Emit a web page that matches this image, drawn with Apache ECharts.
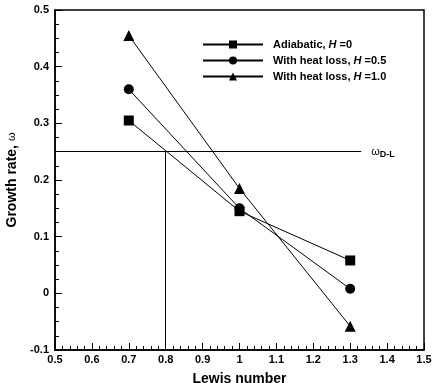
<!DOCTYPE html>
<html><head><meta charset="utf-8">
<script src="https://cdn.jsdelivr.net/npm/echarts@6/dist/echarts.min.js"></script>
<style>html,body{margin:0;padding:0;background:#fff}#c{width:433px;height:383px}</style>
</head><body><div id="c"></div>
<script>
var lewis = [0.7, 1.0, 1.3];
var adiabatic = [0.305, 0.145, 0.058];
var heatLoss05 = [0.36, 0.15, 0.008];
var heatLoss10 = [0.455, 0.185, -0.058];
var seriesNames = ['Adiabatic, {i|H} =0', 'With heat loss, {i|H} =0.5', 'With heat loss, {i|H} =1.0'];
var omegaDL = 0.25;
var leCritical = 0.8;
var xTicks = [0.5, 1.5, 0.1];
var yTicks = [-0.1, 0.5, 0.1];

var font = '"Liberation Sans", Arial, sans-serif';
function pts(ys){ return lewis.map(function(x,i){ return [x, ys[i]]; }); }
var symbols = ['rect', 'circle', 'triangle'];
var allData = [adiabatic, heatLoss05, heatLoss10];
var series = allData.map(function(d, k){
  return {
    name: seriesNames[k], type: 'line', data: pts(d),
    symbol: symbols[k], symbolSize: k===2 ? 11 : 10,
    lineStyle: {color: '#000', width: 1}, itemStyle: {color: '#000'},
    emphasis: {disabled: true}, z: 3
  };
});
series.push({
  type: 'line', data: [], silent: true,
  markLine: {
    silent: true, symbol: 'none', animation: false,
    lineStyle: {color: '#000', width: 1, type: 'solid'},
    data: [
      [{coord: [xTicks[0], omegaDL], label: {show: true, position: 'end', distance: 10,
        formatter: 'ω{s|D-L}', color: '#000', fontFamily: font, fontSize: 11,
        rich: {s: {fontSize: 9, fontWeight: 'bold', fontFamily: font, padding: [6,0,0,0]}}}},
       {coord: [1.33, omegaDL]}],
      [{coord: [leCritical, yTicks[0]], label: {show: false}}, {coord: [leCritical, omegaDL]}]
    ]
  }
});

var chart = echarts.init(document.getElementById('c'), null, {renderer: 'canvas'});
chart.setOption({
  animation: false,
  backgroundColor: '#fff',
  grid: {left: 55, right: 9, top: 10, bottom: 33, show: true, borderColor: '#000', borderWidth: 1.5,
    outerBoundsMode: 'none', containLabel: false},
  legend: {
    left: 197, top: 34, orient: 'vertical', itemWidth: 60, itemHeight: 10, itemGap: 5,
    data: seriesNames,
    textStyle: {color: '#000', fontFamily: font, fontSize: 11, fontWeight: 'bold', padding: [0,0,0,5],
      rich: {i: {fontStyle: 'italic', fontWeight: 'bold', fontFamily: font, fontSize: 11}}}
  },
  xAxis: {
    type: 'value', min: xTicks[0], max: xTicks[1], interval: xTicks[2],
    name: 'Lewis number', nameLocation: 'middle', nameGap: 22,
    nameTextStyle: {color: '#000', fontFamily: font, fontSize: 14, fontWeight: 'bold'},
    axisLine: {onZero: false, lineStyle: {color: '#000', width: 1.5}},
    axisTick: {inside: true, length: 7, lineStyle: {color: '#000'}},
    minorTick: {show: true, splitNumber: 5, length: 4, lineStyle: {color: '#000'}},
    splitLine: {show: false},
    axisLabel: {color: '#000', fontFamily: font, fontSize: 11, fontWeight: 'bold', margin: 4}
  },
  yAxis: {
    type: 'value', min: yTicks[0], max: yTicks[1], interval: yTicks[2],
    name: 'Growth rate, {w|ω}', nameLocation: 'middle', nameGap: 36,
    nameTextStyle: {color: '#000', fontFamily: font, fontSize: 14, fontWeight: 'bold',
      rich: {w: {fontFamily: font, fontSize: 11, fontWeight: 'normal', color: '#000'}}},
    axisLine: {onZero: false, lineStyle: {color: '#000', width: 1.5}},
    axisTick: {inside: true, length: 7, lineStyle: {color: '#000'}},
    minorTick: {show: true, splitNumber: 4, length: 4, lineStyle: {color: '#000'}},
    splitLine: {show: false},
    axisLabel: {color: '#000', fontFamily: font, fontSize: 11, fontWeight: 'bold', margin: 6}
  },
  series: series
});
</script></body></html>
